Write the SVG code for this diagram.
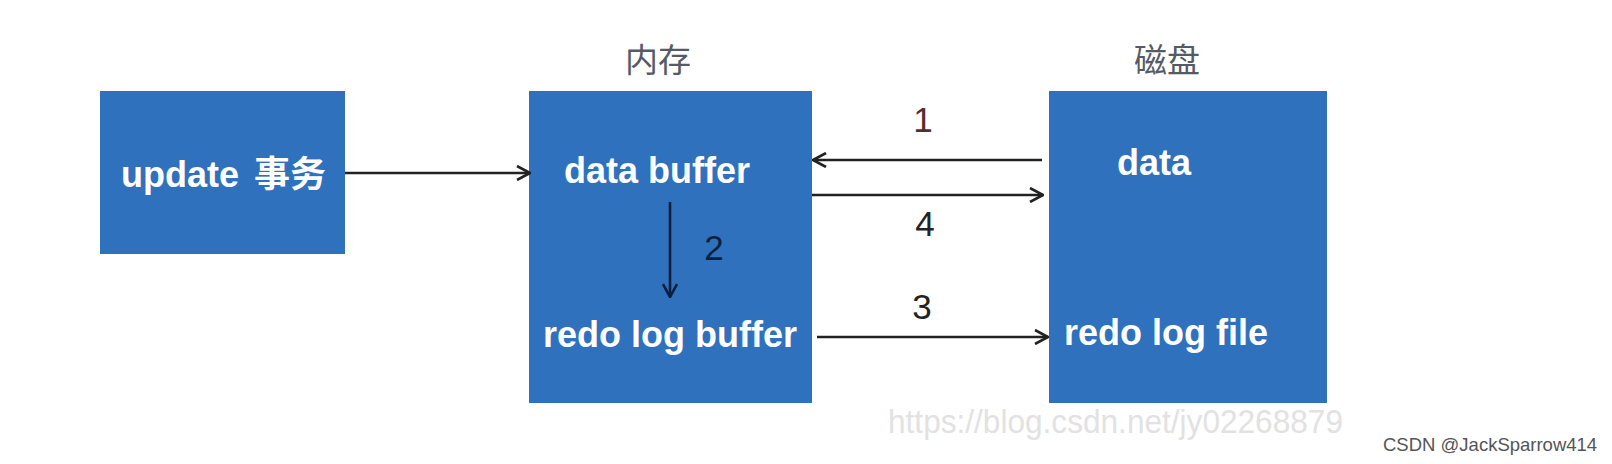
<svg xmlns="http://www.w3.org/2000/svg" width="1612" height="464" viewBox="0 0 1612 464">
  <style>
    .box { fill: #2f71bd; }
    .lbl { font-family: "Liberation Sans", "Noto Sans CJK SC", sans-serif; font-weight: bold; font-size: 36px; fill: #ffffff; }
    .cjk { font-family: "Noto Sans CJK SC", sans-serif; font-weight: bold; }
    .title { font-family: "Noto Sans CJK SC", sans-serif; font-size: 33px; fill: #555a66; }
    .num { font-family: "Liberation Sans", sans-serif; font-size: 35px; text-anchor: middle; }
    .line { stroke: #222222; stroke-width: 2.6; fill: none; }
    .wm { font-family: "Liberation Sans Narrow", "Liberation Sans", sans-serif; fill: #e2e2e2; }
    .csdn { font-family: "Liberation Sans", sans-serif; fill: #555555; }
  </style>
  <defs>
    <marker id="arrow" viewBox="0 0 16 16" refX="15" refY="8" markerWidth="16" markerHeight="16" markerUnits="userSpaceOnUse" orient="auto">
      <path d="M2,1 L15,8 L2,15" fill="none" stroke="#222222" stroke-width="2.6"/>
    </marker>
    <marker id="arrowNavy" viewBox="0 0 16 16" refX="15" refY="8" markerWidth="16" markerHeight="16" markerUnits="userSpaceOnUse" orient="auto">
      <path d="M2,1 L15,8 L2,15" fill="none" stroke="#0e1f3e" stroke-width="2.6"/>
    </marker>
  </defs>

  <rect width="1612" height="464" fill="#ffffff"/>

  <g id="node-update">
    <rect class="box" x="100" y="91" width="245" height="163"/>
    <text class="lbl" x="121" y="187">update <tspan class="cjk" x="254">事务</tspan></text>
  </g>

  <g id="node-memory">
    <text class="title" x="625" y="72">内存</text>
    <rect class="box" x="529" y="91" width="283" height="312"/>
    <text class="lbl" x="564" y="183">data buffer</text>
    <text class="lbl" x="543" y="347">redo log buffer</text>
  </g>

  <g id="node-disk">
    <text class="title" x="1134" y="72">磁盘</text>
    <rect class="box" x="1049" y="91" width="278" height="312"/>
    <text class="lbl" x="1117" y="175">data</text>
    <text class="lbl" x="1064" y="345">redo log file</text>
  </g>

  <g id="connectors">
    <line class="line" x1="345" y1="173" x2="530" y2="173" marker-end="url(#arrow)"/>
    <line class="line" x1="1042" y1="160" x2="813" y2="160" marker-end="url(#arrow)"/>
    <line class="line" x1="812" y1="195" x2="1043" y2="195" marker-end="url(#arrow)"/>
    <line class="line" x1="817" y1="337" x2="1048" y2="337" marker-end="url(#arrow)"/>
    <line x1="670" y1="202" x2="670" y2="297" stroke="#0e1f3e" stroke-width="2.6" marker-end="url(#arrowNavy)"/>
    <text class="num" x="923" y="132" fill="#5b2b2e">1</text>
    <text class="num" x="714" y="260" fill="#0e1f3e">2</text>
    <text class="num" x="922" y="319" fill="#222222">3</text>
    <text class="num" x="925" y="236" fill="#222222">4</text>
  </g>

  <text class="wm" x="888" y="433" font-size="34" textLength="455" lengthAdjust="spacingAndGlyphs">https://blog.csdn.net/jy02268879</text>
  <text class="csdn" x="1383" y="451" font-size="18.5">CSDN @JackSparrow414</text>
</svg>
